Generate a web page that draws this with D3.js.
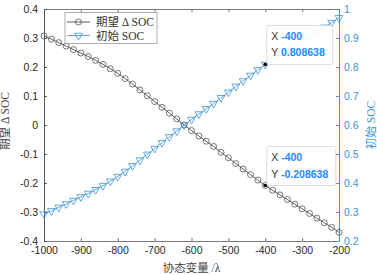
<!DOCTYPE html>
<html>
<head>
<meta charset="utf-8">
<script src="https://cdn.jsdelivr.net/npm/d3@7"></script>
<style>
  body { margin: 0; background: #fff; }
  svg text { font-family: "Liberation Sans", Arial, sans-serif; }
</style>
</head>
<body>
<div id="chart"></div>
<script>
// chart size and plot box
const width = 377,
    height = 275;
const plot = {left: 44, right: 339, top: 9, bottom: 241};

// data
const lambda = [-1000, -980, -960, -940, -920, -900, -880, -860, -840, -820,
  -800, -780, -760, -740, -720, -700, -680, -660, -640, -620,
  -600, -580, -560, -540, -520, -500, -480, -460, -440, -420,
  -400, -380, -360, -340, -320, -300, -280, -260, -240, -220, -200];
const deltaSoc = [0.307, 0.296, 0.284, 0.272, 0.260, 0.248, 0.236, 0.223, 0.209, 0.194,
  0.178, 0.160, 0.141, 0.121, 0.101, 0.081, 0.061, 0.041, 0.021, 0.000,
  -0.019, -0.038, -0.056, -0.074, -0.094, -0.113, -0.133, -0.152, -0.171, -0.190,
  -0.208638, -0.225, -0.241, -0.257, -0.273, -0.289, -0.305, -0.321, -0.337, -0.353, -0.370];
const initSoc = [0.293, 0.304, 0.316, 0.328, 0.340, 0.352, 0.364, 0.377, 0.391, 0.406,
  0.422, 0.440, 0.459, 0.479, 0.499, 0.519, 0.539, 0.559, 0.579, 0.600,
  0.619, 0.638, 0.656, 0.674, 0.694, 0.713, 0.733, 0.752, 0.771, 0.790,
  0.808638, 0.825, 0.841, 0.857, 0.873, 0.889, 0.905, 0.921, 0.937, 0.953, 0.970];

const xTicks = [-1000, -900, -800, -700, -600, -500, -400, -300, -200];
const yLeftTicks = [-0.4, -0.3, -0.2, -0.1, 0, 0.1, 0.2, 0.3, 0.4];
const yRightTicks = [0.2, 0.3, 0.4, 0.5, 0.6, 0.7, 0.8, 0.9, 1];
const seriesNames = ["期望 Δ SOC", "初始 SOC"];
// datatips: [series index, x value]
const tips = [[1, -400], [0, -400]];

const blue = "#3d93d4",
    dark = "#262626",
    axisGray = "#7a7a7a";

const svg = d3.select("#chart")
  .append("svg")
    .attr("width", width)
    .attr("height", height);

const x = d3.scaleLinear().domain([-1000, -200]).range([plot.left, plot.right]);
const yL = d3.scaleLinear().domain([-0.4, 0.4]).range([plot.bottom, plot.top]);
const yR = d3.scaleLinear().domain([0.2, 1]).range([plot.bottom, plot.top]);

const fmt = d => d === 0 ? "0" : (Number.isInteger(d) ? String(d) : d.toFixed(1));

// axes, ticks pointing inward
const bottomAxis = d3.axisBottom(x).tickValues(xTicks).tickSize(-3).tickPadding(6).tickFormat(d => d);
const topAxis = d3.axisTop(x).tickValues(xTicks).tickSize(-3).tickFormat("");
const leftAxis = d3.axisLeft(yL).tickValues(yLeftTicks).tickSize(-3).tickPadding(6).tickFormat(fmt);
const rightAxis = d3.axisRight(yR).tickValues(yRightTicks).tickSize(-3).tickPadding(5).tickFormat(fmt);

function styleAxis(g, lineColor, textColor) {
  g.select(".domain").attr("stroke", lineColor).attr("stroke-width", 1);
  g.selectAll(".tick line").attr("stroke", lineColor);
  g.selectAll(".tick text").attr("fill", textColor).attr("font-size", 10.5)
    .attr("font-family", "Liberation Sans, Arial, sans-serif");
}

svg.append("g").attr("transform", `translate(0,${plot.bottom})`).call(bottomAxis)
  .call(g => styleAxis(g, axisGray, dark));
svg.append("g").attr("transform", `translate(0,${plot.top})`).call(topAxis)
  .call(g => styleAxis(g, axisGray, dark));
svg.append("g").attr("transform", `translate(${plot.left},0)`).call(leftAxis)
  .call(g => styleAxis(g, "#555", dark));
svg.append("g").attr("transform", `translate(${plot.right},0)`).call(rightAxis)
  .call(g => styleAxis(g, blue, blue));

// axis labels
svg.append("text")
  .attr("x", (plot.left + plot.right) / 2)
  .attr("y", 272)
  .attr("text-anchor", "middle")
  .attr("font-size", 11.5)
  .attr("fill", "#444")
  .style("font-family", "Liberation Serif, Noto Sans CJK SC, serif")
  .text("协态变量 /λ");

svg.append("text")
  .attr("transform", `translate(9,${(plot.top + plot.bottom) / 2 - 4}) rotate(-90)`)
  .attr("text-anchor", "middle")
  .attr("font-size", 11.5)
  .attr("fill", "#444")
  .style("font-family", "Liberation Serif, Noto Sans CJK SC, serif")
  .text(seriesNames[0]);

svg.append("text")
  .attr("transform", `translate(375,${(plot.top + plot.bottom) / 2}) rotate(-90)`)
  .attr("text-anchor", "middle")
  .attr("font-size", 11.5)
  .attr("fill", blue)
  .style("font-family", "Liberation Serif, Noto Sans CJK SC, serif")
  .text(seriesNames[1]);

// series
const pts0 = lambda.map((l, i) => [x(l), yL(deltaSoc[i])]);
const pts1 = lambda.map((l, i) => [x(l), yR(initSoc[i])]);
const line = d3.line();

const tri = d3.symbol().type(d3.symbolTriangle).size(26);

function drawCircle(g, p) {
  g.append("circle").attr("cx", p[0]).attr("cy", p[1]).attr("r", 3)
    .attr("fill", "none").attr("stroke", "#555").attr("stroke-width", 0.8);
}
function drawTri(g, p) {
  g.append("path").attr("d", tri)
    .attr("transform", `translate(${p[0]},${p[1]}) rotate(180)`)
    .attr("fill", "none").attr("stroke", blue).attr("stroke-width", 0.8);
}

const s0 = svg.append("g");
s0.append("path").attr("d", line(pts0)).attr("fill", "none").attr("stroke", "#333").attr("stroke-width", 0.8);
pts0.forEach(p => drawCircle(s0, p));

const s1 = svg.append("g");
s1.append("path").attr("d", line(pts1)).attr("fill", "none").attr("stroke", blue).attr("stroke-width", 0.8);
pts1.forEach(p => drawTri(s1, p));

// legend
const legend = svg.append("g");
legend.append("rect")
  .attr("x", 65).attr("y", 12.5).attr("width", 92).attr("height", 31)
  .attr("fill", "#fff").attr("stroke", "#999").attr("stroke-width", 0.8);
[0, 1].forEach(i => {
  const ly = 22 + i * 13.5;
  legend.append("line").attr("x1", 67).attr("x2", 90).attr("y1", ly).attr("y2", ly)
    .attr("stroke", i === 0 ? "#333" : blue).attr("stroke-width", 0.8);
  if (i === 0) drawCircle(legend, [78.5, ly]); else drawTri(legend, [78.5, ly]);
  legend.append("text").attr("x", 96).attr("y", ly + 4)
    .attr("font-size", 11.5).attr("fill", "#333")
    .style("font-family", "Liberation Serif, Noto Sans CJK SC, serif")
    .text(seriesNames[i]);
});

// datatips
tips.forEach(([si, lx]) => {
  const idx = lambda.indexOf(lx);
  const val = si === 0 ? deltaSoc[idx] : initSoc[idx];
  const px = x(lx), py = si === 0 ? yL(val) : yR(val);
  const g = svg.append("g");
  g.append("rect")
    .attr("x", px + 1.5).attr("y", py - 39).attr("width", si === 0 ? 69 : 66).attr("height", 39)
    .attr("rx", 2)
    .attr("fill", "#fff").attr("fill-opacity", 0.92)
    .attr("stroke", "#d4d4d4").attr("stroke-width", 0.8);
  [["X", lx], ["Y", val]].forEach(([k, v], j) => {
    const t = g.append("text").attr("x", px + 6).attr("y", py - 24.5 + j * 16.5)
      .attr("font-size", 10.5);
    t.append("tspan").attr("fill", "#333").text(k + " ");
    t.append("tspan").attr("fill", "#1a8cff").attr("font-weight", "bold").text(v);
  });
  g.append("circle").attr("cx", px).attr("cy", py).attr("r", 1.8).attr("fill", "#000");
});
</script>
</body>
</html>
